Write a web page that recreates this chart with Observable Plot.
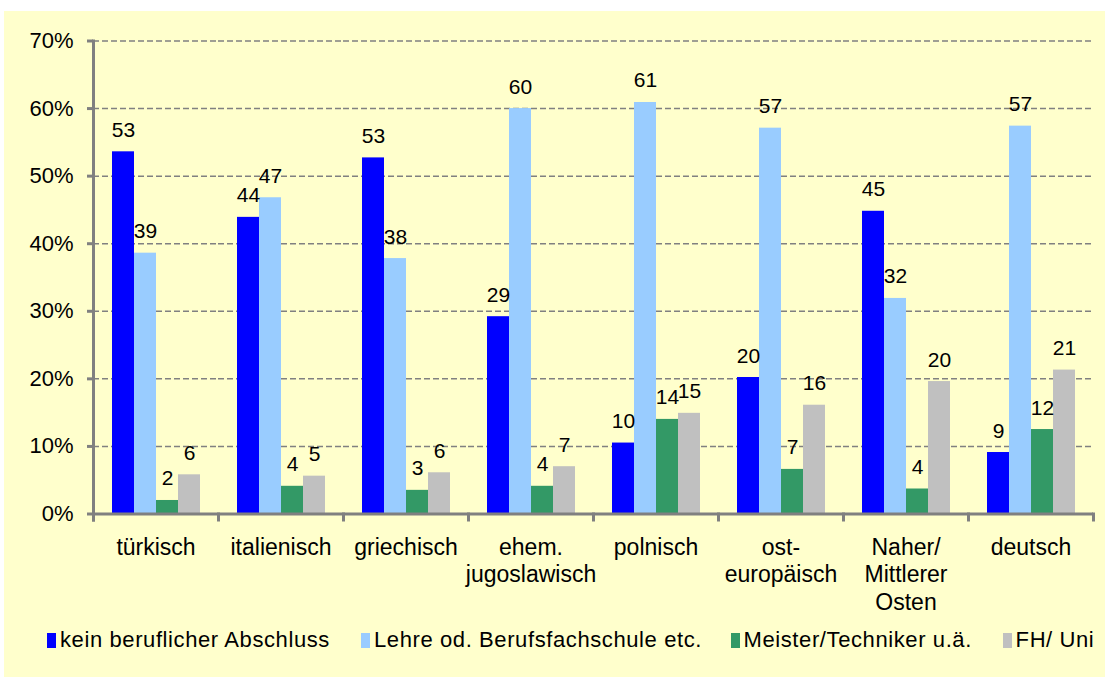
<!DOCTYPE html>
<html>
<head>
<meta charset="utf-8">
<script src="https://cdn.jsdelivr.net/npm/d3@7"></script>
<script src="https://cdn.jsdelivr.net/npm/@observablehq/plot@0.6"></script>
<style>
  html, body { margin: 0; padding: 0; background: #ffffff; }
  #wrap { position: relative; width: 1109px; height: 678px; overflow: hidden; font-family: "Liberation Sans", Arial, sans-serif; }
  #panel { position: absolute; left: 4px; top: 11px; width: 1101px; height: 666px; background: #FFFFCC; }
  #chart { position: absolute; left: 0; top: 0; }
  #legend { position: absolute; left: 0; top: 0; width: 1109px; height: 678px; pointer-events: none; }
  .lg-item { position: absolute; top: 629.4px; height: 22px; line-height: 22px; font-size: 22px; letter-spacing: 0.6px; color: #000; white-space: nowrap; }
  .lg-sw { position: absolute; top: 632.5px; width: 9px; height: 15.5px; }
</style>
</head>
<body>
<div id="wrap">
  <div id="panel"></div>
  <div id="chart"></div>
  <div id="legend"></div>
</div>
<script>
// Categories (x-axis groups), "\n" marks line breaks in the tick labels
const categories = [
  "türkisch",
  "italienisch",
  "griechisch",
  "ehem.\njugoslawisch",
  "polnisch",
  "ost-\neuropäisch",
  "Naher/\nMittlerer\nOsten",
  "deutsch"
];

// Series names
const series = [
  "kein beruflicher Abschluss",
  "Lehre od. Berufsfachschule etc.",
  "Meister/Techniker u.ä.",
  "FH/ Uni"
];

// Series colours
const colors = ["#0000FF", "#99CCFF", "#339966", "#C0C0C0"];

// Values (percent)
const keinAbschluss = [53.6, 43.9, 52.7, 29.2, 10.5, 20.2, 44.8, 9.1];
const lehre         = [38.6, 46.8, 37.8, 60.0, 60.9, 57.1, 31.9, 57.4];
const meister       = [2.0, 4.1, 3.5, 4.1, 14.0, 6.6, 3.7, 12.5];
const fhUni         = [5.8, 5.6, 6.1, 7.0, 14.9, 16.1, 19.6, 21.3];

// Data labels as printed above the bars
const keinAbschlussLabels = [53, 44, 53, 29, 10, 20, 45, 9];
const lehreLabels         = [39, 47, 38, 60, 61, 57, 32, 57];
const meisterLabels       = [2, 4, 3, 4, 14, 7, 4, 12];
const fhUniLabels         = [6, 5, 6, 7, 15, 16, 20, 21];

// Y-axis ticks (percent)
const yTicks = [0, 10, 20, 30, 40, 50, 60, 70];

// Build the long table
const seriesValues = [keinAbschluss, lehre, meister, fhUni];
const seriesLabels = [keinAbschlussLabels, lehreLabels, meisterLabels, fhUniLabels];
const rows = [];
categories.forEach((c, i) => {
  series.forEach((s, j) => {
    rows.push({cat: c, series: s, value: seriesValues[j][i], label: String(seriesLabels[j][i])});
  });
});

const W = 1109, H = 610, mT = 40.5, mB = 96.5, mL = 93, mR = 16;
const innerH = H - mT - mB;
const axisGray = "#808080";

const chart = Plot.plot({
  width: W,
  height: H,
  marginLeft: mL,
  marginRight: mR,
  marginTop: mT,
  marginBottom: mB,
  style: {background: "transparent", fontFamily: "'Liberation Sans', Arial, sans-serif", color: "#000", overflow: "visible"},
  fx: {domain: categories, padding: 0, label: null},
  x: {domain: series, paddingInner: 0, paddingOuter: 0.78, axis: null},
  y: {domain: [0, 70], label: null},
  color: {domain: series, range: colors},
  marks: [
    Plot.gridY(yTicks.slice(1), {stroke: axisGray, strokeOpacity: 1, strokeWidth: 1.5, strokeDasharray: "6,3"}),
    Plot.barY(rows, {fx: "cat", x: "series", y: "value", fill: "series"}),
    Plot.text(rows, {fx: "cat", x: "series", y: "value", text: "label", lineAnchor: "bottom", dy: -15, fontSize: 21, fill: "#000"}),
    Plot.ruleY([0], {stroke: axisGray, strokeWidth: 3}),
    // group boundary ticks below the baseline
    Plot.frame({anchor: "left", stroke: axisGray, strokeWidth: 3, insetTop: innerH, insetBottom: -6}),
    Plot.frame({facet: "super", anchor: "right", stroke: axisGray, strokeWidth: 3, insetTop: innerH, insetBottom: -6}),
    // y axis line
    Plot.frame({facet: "super", anchor: "left", stroke: axisGray, strokeWidth: 3, insetBottom: -6}),
    Plot.axisY({ticks: yTicks, anchor: "left", tickSize: 6, tickPadding: 14, tickFormat: d => d + "%", fontSize: 22, stroke: axisGray, strokeWidth: 3, fill: "#000", label: null}),
    Plot.axisFx({anchor: "bottom", tickSize: 0, tickPadding: 21, fontSize: 23, lineHeight: 1.2, fill: "#000", label: null})
  ]
});
document.getElementById("chart").appendChild(chart);

// Legend (HTML, below the plot area)
const legendLeft = [47, 361, 730.5, 1002.6];
const legend = document.getElementById("legend");
series.forEach((s, j) => {
  const sw = document.createElement("div");
  sw.className = "lg-sw";
  sw.style.left = legendLeft[j] + "px";
  sw.style.background = colors[j];
  legend.appendChild(sw);
  const t = document.createElement("div");
  t.className = "lg-item";
  t.style.left = (legendLeft[j] + 13) + "px";
  t.textContent = s;
  legend.appendChild(t);
});
</script>
</body>
</html>
